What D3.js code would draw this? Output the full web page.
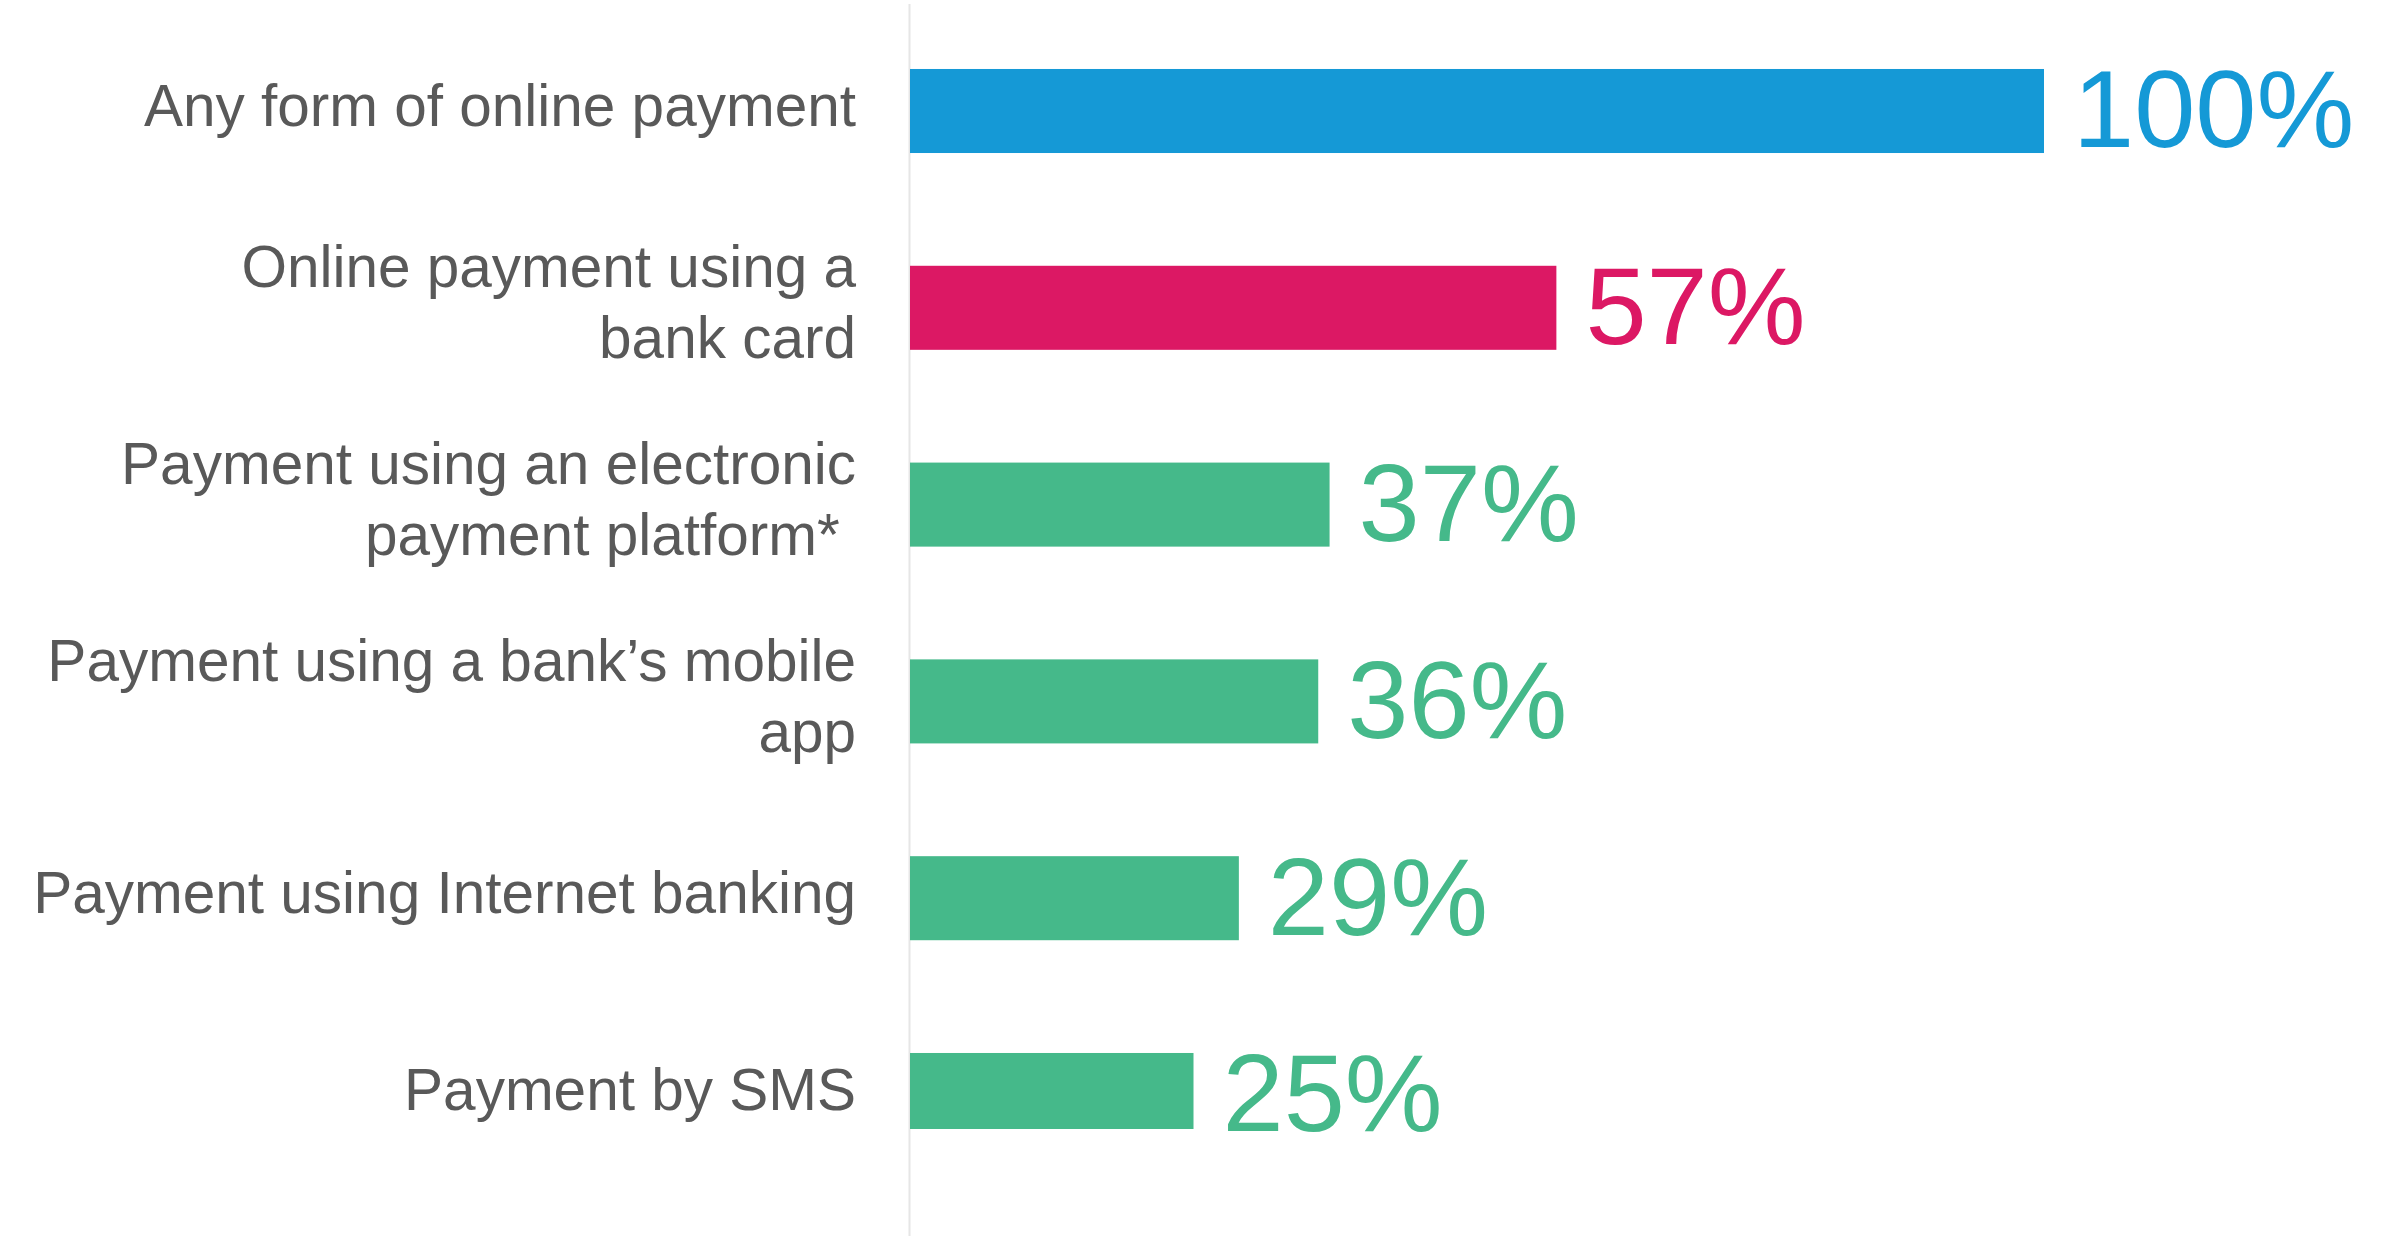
<!DOCTYPE html>
<html>
<head>
<meta charset="utf-8">
<script src="https://cdn.jsdelivr.net/npm/d3@7"></script>
<style>
  html, body { margin: 0; padding: 0; background: #ffffff; }
  svg { display: block; }
  text { font-family: "Liberation Sans", Arial, sans-serif; white-space: pre; }
</style>
</head>
<body>
<svg id="chart" width="2382" height="1236"></svg>
<script>
// Share of respondents by online payment method
const categories = [
  "Any form of online payment",
  "Online payment using a bank card",
  "Payment using an electronic payment platform*",
  "Payment using a bank’s mobile app",
  "Payment using Internet banking",
  "Payment by SMS"
];
const labelLines = [
  ["Any form of online payment"],
  ["Online payment using a", "bank card"],
  ["Payment using an electronic", "payment platform* "],
  ["Payment using a bank’s mobile", "app"],
  ["Payment using Internet banking"],
  ["Payment by SMS"]
];
const values = [100, 57, 37, 36, 29, 25];
const barColors = ["#1599D6", "#DC1864", "#45B98A", "#45B98A", "#45B98A", "#45B98A"];

const W = 2382, H = 1236;
const axisX = 910, fullX = 2044;

const svg = d3.select("#chart");

const x = d3.scaleLinear().domain([0, 100]).range([axisX, fullX]);
const y = d3.scaleBand()
  .domain(categories)
  .range([12.6, 1193.4])
  .paddingInner(0.573)
  .paddingOuter(0.2865);

// plot area clip
svg.append("defs").append("clipPath").attr("id", "plot-clip")
  .append("rect").attr("x", axisX).attr("y", 4).attr("width", W - axisX).attr("height", 1125);

// vertical baseline
svg.append("line")
  .attr("x1", axisX - 0.5).attr("x2", axisX - 0.5)
  .attr("y1", 4).attr("y2", H)
  .attr("stroke", "#e6e6e6").attr("stroke-width", 2);

const rows = categories.map((c, i) => ({ cat: c, lines: labelLines[i], v: values[i], color: barColors[i] }));

// bars
svg.append("g").attr("clip-path", "url(#plot-clip)")
  .selectAll("rect").data(rows).join("rect")
  .attr("x", x(0))
  .attr("y", d => y(d.cat))
  .attr("width", d => x(d.v) - x(0))
  .attr("height", y.bandwidth())
  .attr("fill", d => d.color);

// value labels
svg.append("g").selectAll("text").data(rows).join("text")
  .attr("x", d => x(d.v) + 29)
  .attr("y", d => y(d.cat) + y.bandwidth() / 2)
  .attr("dy", "0.33em")
  .attr("font-size", 110)
  .attr("fill", d => d.color)
  .text(d => d.v + "%");

// category labels
const lineH = 71;
const cat = svg.append("g").selectAll("text").data(rows).join("text")
  .attr("text-anchor", "end")
  .attr("font-size", 58.5)
  .attr("fill", "#595959")
  .attr("y", d => y(d.cat) + y.bandwidth() / 2 + 15 - (d.lines.length - 1) * lineH / 2);
cat.selectAll("tspan").data(d => d.lines).join("tspan")
  .attr("x", 856)
  .attr("dy", (d, i) => i === 0 ? 0 : lineH)
  .text(d => d);
</script>
</body>
</html>
